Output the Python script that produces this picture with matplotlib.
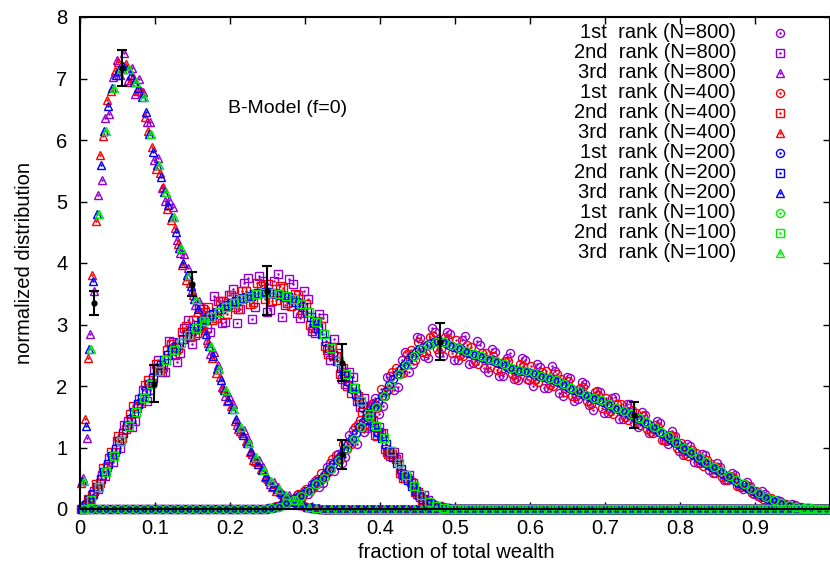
import numpy as np
import matplotlib
matplotlib.use("Agg")
import matplotlib.pyplot as plt

plt.rcParams['font.family'] = ['Liberation Sans', 'DejaVu Sans']

# histogram bins of the N=200 run (width 0.005), shared by the other runs
N_BINS = 200
bin_x = 0.0025 + 0.005 * np.arange(N_BINS)

# mean distribution of each rank, listed from its first bin
rank1_start = 50
rank1_vals = [
    0.01, 0.02, 0.04, 0.06, 0.09, 0.12, 0.15, 0.18, 0.21, 0.24,
    0.29, 0.34, 0.40, 0.45, 0.51, 0.58, 0.65, 0.73, 0.80, 0.88,
    0.97, 1.05, 1.14, 1.24, 1.33, 1.41, 1.49, 1.58, 1.66, 1.74,
    1.83, 1.92, 2.02, 2.11, 2.19, 2.27, 2.34, 2.42, 2.49, 2.55,
    2.60, 2.64, 2.67, 2.70, 2.72, 2.73, 2.72, 2.70, 2.67, 2.64,
    2.62, 2.60, 2.57, 2.54, 2.52, 2.50, 2.48, 2.46, 2.44, 2.42,
    2.40, 2.38, 2.35, 2.32, 2.30, 2.28, 2.26, 2.25, 2.24, 2.23,
    2.21, 2.19, 2.17, 2.15, 2.13, 2.11, 2.09, 2.07, 2.04, 2.00,
    1.97, 1.94, 1.92, 1.89, 1.86, 1.84, 1.81, 1.79, 1.77, 1.74,
    1.71, 1.68, 1.65, 1.62, 1.60, 1.57, 1.54, 1.51, 1.48, 1.45,
    1.41, 1.38, 1.34, 1.30, 1.26, 1.22, 1.18, 1.13, 1.09, 1.05,
    1.00, 0.96, 0.92, 0.88, 0.84, 0.80, 0.76, 0.72, 0.68, 0.65,
    0.61, 0.57, 0.54, 0.50, 0.47, 0.43, 0.40, 0.36, 0.32, 0.29,
    0.26, 0.23, 0.20, 0.17, 0.15, 0.12, 0.10, 0.08, 0.06, 0.05,
    0.04, 0.03, 0.02, 0.01, 0.01, 0.00,
]

rank2_start = 0
rank2_vals = [
    0.00, 0.06, 0.14, 0.25, 0.36, 0.48, 0.60, 0.73, 0.86, 0.98,
    1.10, 1.23, 1.35, 1.46, 1.58, 1.70, 1.81, 1.92, 2.03, 2.13,
    2.24, 2.34, 2.43, 2.51, 2.58, 2.64, 2.70, 2.77, 2.83, 2.89,
    2.95, 3.00, 3.05, 3.09, 3.13, 3.17, 3.21, 3.25, 3.29, 3.32,
    3.35, 3.38, 3.41, 3.43, 3.45, 3.47, 3.49, 3.51, 3.52, 3.53,
    3.52, 3.51, 3.50, 3.48, 3.46, 3.44, 3.41, 3.37, 3.33, 3.28,
    3.21, 3.13, 3.04, 2.95, 2.84, 2.73, 2.62, 2.51, 2.40, 2.30,
    2.19, 2.08, 1.97, 1.87, 1.76, 1.66, 1.55, 1.45, 1.35, 1.25,
    1.15, 1.05, 0.95, 0.85, 0.75, 0.65, 0.56, 0.47, 0.38, 0.30,
    0.23, 0.17, 0.12, 0.08, 0.05, 0.03, 0.02, 0.01, 0.00,
]

rank3_start = 0
rank3_vals = [
    0.45, 1.35, 2.60, 3.70, 4.80, 5.60, 6.15, 6.55, 6.85, 7.05,
    7.15, 7.20, 7.15, 7.05, 6.95, 6.85, 6.70, 6.45, 6.10, 5.80,
    5.60, 5.40, 5.15, 4.95, 4.75, 4.50, 4.25, 4.00, 3.80, 3.62,
    3.42, 3.25, 3.05, 2.85, 2.65, 2.48, 2.27, 2.10, 1.93, 1.78,
    1.62, 1.47, 1.33, 1.20, 1.07, 0.95, 0.84, 0.73, 0.63, 0.54,
    0.46, 0.38, 0.32, 0.27, 0.22, 0.18, 0.14, 0.11, 0.08, 0.06,
    0.04, 0.03, 0.02, 0.01, 0.00,
]

# scatter of the N=800 and N=400 runs around the mean, in units of 0.01
rank1_dev800 = [
    0, 1, -1, 2, -2, 3, -3, 4, -4, 5,
    -5, 7, 6, -9, -8, 10, 9, -12, 10, -14,
    -12, 15, 14, -18, 11, -16, -18, 12, 15, -20,
    -16, 22, 14, -18, -20, 15, 22, -19, -13, 24,
    18, -16, -21, 25, 15, -20, -24, 18, 17, -22,
    -20, 15, 25, -19, -14, 23, 19, -16, -22, 18,
    15, -21, -18, 14, 23, -17, -16, 20, 19, -13,
    -21, 16, 14, -19, -17, 22, 15, -18, -20, 14,
    16, -19, -13, 17, 18, -15, -20, 13, 14, -18,
    -15, 12, 17, -16, -13, 14, 16, -11, -15, 13,
    12, -15, -11, 13, 14, -10, -12, 14, 10, -11,
    -13, 9, 11, -12, -9, 10, 12, -8, -10, 9,
    8, -10, -7, 9, 8, -6, -7, 8, 6, -5,
    -5, 6, 4, -5, -4, 3, 3, -4, -2, 3,
    2, -2, -1, 1, 0, 0,
]
rank1_dev400 = [
    0, 0, 1, -1, 1, -2, 2, -3, 3, -4,
    4, -5, -6, 4, 7, -6, -5, 8, 7, -6,
    9, -7, -8, 10, 6, -9, -11, 8, 7, -10,
    12, -9, -8, 11, 10, -7, -13, 10, 9, -12,
    11, -8, -14, 10, 9, -13, -12, 9, 10, -11,
    13, -10, -8, 12, 11, -9, -12, 8, 10, -11,
    9, -12, -10, 8, 11, -9, -13, 10, 8, -11,
    12, -9, -10, 8, 11, -10, -9, 12, 8, -9,
    11, -10, -9, 8, 12, -9, -10, 11, 8, -10,
    9, -8, -11, 9, 10, -7, -9, 10, 8, -9,
    10, -8, -9, 7, 8, -9, -7, 8, 9, -6,
    8, -7, -6, 8, 7, -5, -6, 7, 5, -6,
    6, -5, -7, 4, 5, -6, -4, 5, 5, -3,
    4, -3, -4, 2, 3, -3, -2, 2, 2, -1,
    1, -1, 1, 0, 0, 0,
]
rank2_dev800 = [
    0, 2, -3, 5, -4, 8, -6, 10, -9, 12,
    -11, 14, 8, -13, -15, 9, 12, -16, -10, 14,
    18, -12, -20, 22, 14, -25, -16, 18, 24, -20,
    -12, 28, 20, -15, -26, 30, 18, -22, -25, 16,
    22, -35, -15, 25, 30, -38, -20, 28, 18, -32,
    -28, 20, 32, -35, -15, 30, 25, -18, -22, 26,
    20, -24, -18, 22, 26, -15, -20, 25, 14, -18,
    -16, 14, 18, -12, -10, 15, 12, -10, -14, 9,
    8, -12, -9, 7, 10, -8, -6, 9, 5, -6,
    -4, 5, 3, -4, -2, 2, -1, 1, 0,
]
rank2_dev400 = [
    0, -1, 2, -3, 4, -5, 6, -4, 7, -6,
    8, -7, -5, 9, 10, -6, -8, 10, 7, -8,
    11, -9, -12, 8, 10, -13, -9, 11, 14, -10,
    12, -14, -8, 12, 15, -9, -11, 13, 10, -15,
    13, -10, -16, 12, 9, -14, -12, 16, 10, -11,
    14, -12, -10, 15, 13, -9, -11, 13, 15, -10,
    12, -14, -9, 11, 13, -8, -10, 12, 9, -10,
    11, -8, -9, 10, 7, -9, -8, 7, 9, -6,
    7, -8, -6, 5, 7, -6, -5, 4, 6, -3,
    4, -3, -3, 2, 2, -1, 1, 0, 0,
]
rank3_dev800 = [
    5, -20, 25, -15, 30, -25, 20, -12, 18, 25,
    -10, 22, -18, 12, -20, 15, 8, -15, 20, -12,
    10, -18, -14, 8, 16, -12, -9, 15, 12, -6,
    -10, 14, 9, -11, -13, 8, 7, -12, -10, 6,
    9, -10, -6, 8, 7, -5, -6, 7, 5, -4,
    -5, 6, 4, -3, -3, 4, 2, -3, -2, 2,
    -1, 2, -1, 1, 0,
]
rank3_dev400 = [
    -3, 12, -15, 10, -12, 15, -8, 10, -6, 8,
    12, -5, 9, -10, 7, -6, 10, -8, 5, 9,
    -7, 6, 9, -8, -5, 7, 6, -4, -8, 5,
    6, -4, -7, 6, 5, -3, -6, 5, 4, -3,
    5, -4, -3, 4, 3, -2, -4, 3, 2, -2,
    3, -2, -2, 1, 2, -1, -1, 1, 1, 0,
    1, 0, 0, 0, 0,
]

# error bars
err_x = [0.019, 0.056, 0.098, 0.149, 0.249, 0.349, 0.349, 0.480, 0.739]
err_y = [3.35, 7.17, 2.04, 3.66, 3.55, 2.38, 0.89, 2.72, 1.53]
err_d = [0.19, 0.29, 0.30, 0.20, 0.40, 0.30, 0.24, 0.30, 0.21]

ranks = ["1st", "2nd", "3rd"]
sizes = [800, 400, 200, 100]
colors = {800: "#9400d3", 400: "#ff0000", 200: "#0000ff", 100: "#00ee00"}
markers = {"1st": ("o", 5.8), "2nd": ("s", 5.2), "3rd": ("^", 6.2)}

FS = 14.5


def curva(start, vals, dev=None):
    y = np.zeros(N_BINS)
    v = np.array(vals, dtype=float)
    if dev is not None:
        v = v + np.array(dev) / 100.0
    y[start:start + len(v)] = np.maximum(v, 0.0)
    return y


datos = {
    "1st": (rank1_start, rank1_vals, {800: rank1_dev800, 400: rank1_dev400}),
    "2nd": (rank2_start, rank2_vals, {800: rank2_dev800, 400: rank2_dev400}),
    "3rd": (rank3_start, rank3_vals, {800: rank3_dev800, 400: rank3_dev400}),
}


def serie(rank, n):
    start, vals, devs = datos[rank]
    if n == 100:
        y = curva(start, vals)
        return bin_x[::2] + 0.0025, y[::2]
    if n == 200:
        return bin_x, curva(start, vals)
    shift = 0.00125 if n == 800 else -0.00125
    return bin_x + shift, curva(start, vals, devs[n])


def puntos(ax, x, y, rank, color, **kw):
    m, ms = markers[rank]
    ax.plot(x, y, ls="none", marker=m, ms=ms, mfc="none", mec=color,
            mew=1.0, **kw)
    ax.plot(x, y, ls="none", marker=".", ms=1.6, color=color, **kw)


fig = plt.figure(figsize=(8.3, 5.72), dpi=100)
ax = fig.add_axes([80 / 830, 63 / 572, 750 / 830, 492 / 572])

for n in sizes:
    for r in ranks:
        x, y = serie(r, n)
        puntos(ax, x, y, r, colors[n], clip_on=False, zorder=2)

ax.errorbar(err_x, err_y, yerr=err_d, fmt="o", ms=3.5, color="black",
            ecolor="black", elinewidth=1.5, capsize=3.5, capthick=1.5,
            zorder=4)

# legend, gnuplot style: text right aligned, marker on the right
ley_y0, ley_dy = 7.74, 0.325
i = 0
for n in sizes:
    for r in ranks:
        yy = ley_y0 - ley_dy * i
        ax.text(0.875, yy, f"{r}  rank (N={n})", ha="right", va="center",
                fontsize=FS)
        puntos(ax, [0.933], [yy], r, colors[n], clip_on=False, zorder=5)
        i += 1

ax.text(0.277, 6.52, "B-Model (f=0)", ha="center", va="center", fontsize=14)

ax.set_xlim(0, 1.0)
ax.set_ylim(0, 8)
ax.set_xticks(np.arange(0, 0.95, 0.1))
ax.set_xticklabels(["0", "0.1", "0.2", "0.3", "0.4", "0.5", "0.6", "0.7",
                    "0.8", "0.9"])
ax.set_yticks(range(0, 9))
ax.tick_params(direction="in", top=True, right=True, length=5, width=1,
               labelsize=FS)
ax.tick_params(axis="x", pad=7)
ax.tick_params(axis="y", pad=9)
for s in ax.spines.values():
    s.set_linewidth(1.5)

fig.text(456 / 830, 1 - 553 / 572, "fraction of total wealth",
         ha="center", va="center", fontsize=FS)
fig.text(25 / 830, 1 - 263 / 572, "normalized distribution", rotation=90,
         ha="center", va="center", fontsize=FS)

fig.savefig("out.png", dpi=100)
